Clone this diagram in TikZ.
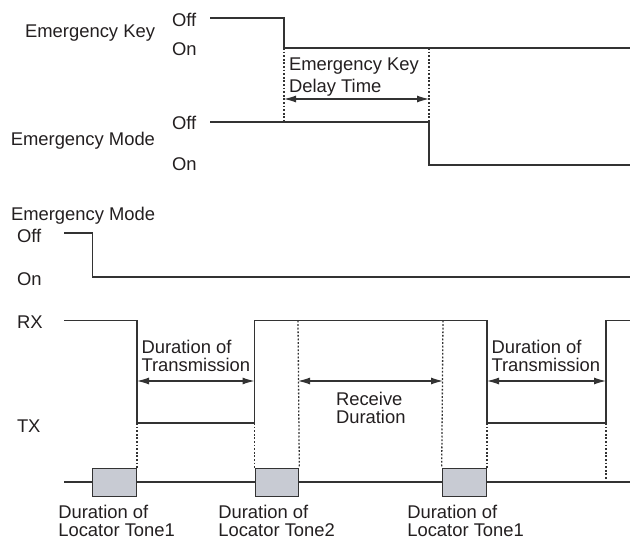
\documentclass[tikz,border=0pt]{standalone}
\usepackage{fontspec}
\setmainfont{Liberation Sans}
\usetikzlibrary{arrows.meta}
\definecolor{ink}{HTML}{231F20}
\definecolor{wire}{HTML}{333333}
\definecolor{tonefill}{HTML}{C8CBD3}
\begin{document}
\begin{tikzpicture}[x=1pt,y=-1pt,
  lbl/.style={inner sep=0pt,outer sep=0pt,text=ink,font=\fontsize{18.4}{17.7}\selectfont,align=left},
  lblr/.style={lbl,align=right},
  sig/.style={draw=wire,line width=1.3pt},
  guide/.style={draw=wire,line width=1.3pt,dash pattern=on 1.8pt off 1.8pt},
  dim/.style={draw=wire,line width=1.1pt,{Latex[length=12pt,width=7pt]}-{Latex[length=12pt,width=7pt]}},
  tone/.style={draw=wire,line width=1.3pt,fill=tonefill}]
\useasboundingbox (0,0) rectangle (630,541);
% ---------- top: emergency key ----------
\node[lblr,anchor=base east] (ekey) at (155,37.5) {Emergency Key};
\node[lbl,anchor=base west] (koff) at (172,26) {Off};
\node[lbl,anchor=base west] (kon) at (172,55) {On};
\coordinate (k0) at (210,18);
\coordinate (k1) at (284,18);
\coordinate (k2) at (284,48);
\coordinate (k3) at (630,48);
\draw[sig] (k0) -- (k1) -- (k2) -- (k3);
% ---------- top: emergency mode ----------
\node[lblr,anchor=base east] (emode) at (155,145) {Emergency Mode};
\node[lbl,anchor=base west] (moff) at (172,129.5) {Off};
\node[lbl,anchor=base west] (mon) at (172,170) {On};
\coordinate (m0) at (210,122);
\coordinate (m1) at (429,122);
\coordinate (m2) at (429,165);
\coordinate (m3) at (630,165);
\draw[sig] (m0) -- (m1) -- (m2) -- (m3);
% guides and delay arrow
\coordinate (g1b) at (284,122);
\coordinate (g2t) at (429,48);
\draw[guide] (k2) -- (g1b);
\draw[guide] (g2t) -- (m1);
\coordinate (da) at (284,99);
\coordinate (db) at (429,99);
\draw[dim] (da) -- (db);
\node[lbl,anchor=base west,font=\fontsize{18.4}{22.7}\selectfont] (delay) at (289,92.7) {Emergency Key\\Delay Time};
% ---------- middle: emergency mode ----------
\node[lbl,anchor=base west] (emode2) at (11,220) {Emergency Mode};
\node[lbl,anchor=base west] (m2off) at (17,242.5) {Off};
\node[lbl,anchor=base west] (m2on) at (17,285) {On};
\coordinate (n0) at (64,233);
\coordinate (n1) at (92.5,233);
\coordinate (n2) at (92.5,277);
\coordinate (n3) at (630,277);
\draw[sig] (n0) -- (n1) -- (n2) -- (n3);
% ---------- RX / TX ----------
\node[lbl,anchor=base west] (rx) at (17,328.5) {RX};
\node[lbl,anchor=base west] (tx) at (17,432.5) {TX};
\coordinate (r0) at (64,320.5);
\coordinate (r1) at (137,320.5);
\coordinate (r2) at (137,423);
\coordinate (r3) at (254.5,423);
\coordinate (r4) at (254.5,320.5);
\coordinate (r5) at (487,320.5);
\coordinate (r6) at (487,423);
\coordinate (r7) at (606,423);
\coordinate (r8) at (606,320.5);
\coordinate (r9) at (630,320.5);
\draw[sig] (r0) -- (r1) -- (r2) -- (r3) -- (r4) -- (r5) -- (r6) -- (r7) -- (r8) -- (r9);
% ---------- locator tone line ----------
\coordinate (b0) at (64,482);
\coordinate (b1) at (630,482);
\draw[sig] (b0) -- (b1);
\node[tone,minimum width=44pt,minimum height=28.5pt,inner sep=0pt,anchor=north east] (t1) at (137,467.5) {};
\node[tone,minimum width=43.5pt,minimum height=28.5pt,inner sep=0pt,anchor=north west] (t2) at (254.5,467.5) {};
\node[tone,minimum width=44pt,minimum height=28.5pt,inner sep=0pt,anchor=north east] (t3) at (487,467.5) {};
% guides
\draw[guide] (r2) -- (t1.north east);
\draw[guide] (r3) -- (t2.north west);
\coordinate (q1) at (298,320.5);
\draw[guide] (q1) -- (t2.north east);
\coordinate (q2) at (443,320.5);
\draw[guide] (q2) -- (t3.north west);
\draw[guide] (r6) -- (t3.north east);
\coordinate (q3) at (606,479);
\draw[guide] (r7) -- (q3);
% ---------- dimension arrows ----------
\coordinate (a1) at (137,381);
\coordinate (a2) at (254.5,381);
\draw[dim] (a1) -- (a2);
\coordinate (a3) at (298,381);
\coordinate (a4) at (443,381);
\draw[dim] (a3) -- (a4);
\coordinate (a5) at (487,381);
\coordinate (a6) at (606,381);
\draw[dim] (a5) -- (a6);
\node[lbl,anchor=base west] (dt1) at (141.5,371) {Duration of\\Transmission};
\node[lbl,anchor=base west] (dt2) at (491.5,371) {Duration of\\Transmission};
\node[lbl,anchor=base west] (rd) at (336,423) {Receive\\Duration};
% ---------- tone labels ----------
\node[lbl,anchor=base west] (lt1) at (58.3,536) {Duration of\\Locator Tone1};
\node[lbl,anchor=base west] (lt2) at (218.3,536) {Duration of\\Locator Tone2};
\node[lbl,anchor=base west] (lt3) at (407.3,536) {Duration of\\Locator Tone1};
\end{tikzpicture}
\end{document}
